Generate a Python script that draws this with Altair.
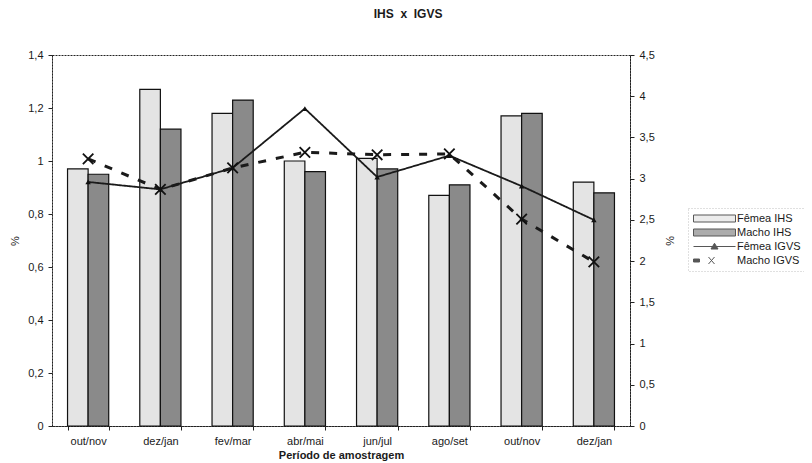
import altair as alt
import pandas as pd

# ---- data ----
periods = ["out/nov", "dez/jan", "fev/mar", "abr/mai", "jun/jul", "ago/set", "out/nov", "dez/jan"]
femea_ihs = [0.97, 1.27, 1.18, 1.00, 1.01, 0.87, 1.17, 0.92]
macho_ihs = [0.95, 1.12, 1.23, 0.96, 0.97, 0.91, 1.18, 0.88]
femea_igvs = [2.96, 2.87, 3.13, 3.85, 3.02, 3.28, 2.91, 2.50]
macho_igvs = [3.24, 2.87, 3.13, 3.32, 3.29, 3.30, 2.51, 1.99]
series_names = ["Fêmea IHS", "Macho IHS", "Fêmea IGVS", "Macho IGVS"]
left_ticks = [0, 0.2, 0.4, 0.6, 0.8, 1.0, 1.2, 1.4]
right_ticks = [0, 0.5, 1, 1.5, 2, 2.5, 3, 3.5, 4, 4.5]

FONT = "Liberation Sans"
TXT = "#1a1a1a"

bars_df = pd.DataFrame(
    [{"idx": i, "series": series_names[0], "value": v} for i, v in enumerate(femea_ihs)]
    + [{"idx": i, "series": series_names[1], "value": v} for i, v in enumerate(macho_ihs)]
)
igvs_df = pd.DataFrame(
    [{"idx": i, "series": series_names[2], "value": v} for i, v in enumerate(femea_igvs)]
    + [{"idx": i, "series": series_names[3], "value": v} for i, v in enumerate(macho_igvs)]
)
legend_df = pd.DataFrame({"series": series_names})

label_js = "[" + ",".join("'" + p + "'" for p in periods) + "][datum.value]"
num_expr = "replace(format(datum.value, '~g'), '.', ',')"

x_enc = alt.X(
    "idx:O",
    scale=alt.Scale(paddingInner=0.43, paddingOuter=0.215),
    axis=alt.Axis(
        title="Período de amostragem",
        labelExpr=label_js,
        labelAngle=0,
        tickBand="extent",
        tickSize=4,
        labelPadding=5,
        titlePadding=3,
        titleFontWeight="bold",
    ),
)

fill_scale = alt.Scale(domain=series_names, range=["#e4e4e4", "#8a8a8a", "#111111", "#111111"])

legend_paths = [
    "M-1,-0.7H7.4V0.7H-1Z",
    "M-1,-0.7H7.4V0.7H-1Z",
    "M-1,0H7.4M2.5,0.5L3.2,-0.65L3.9,0.5Z",
    "M-1,-0.3H0.2V0.3H-1ZM2.0,-0.7L3.2,0.7M2.0,0.7L3.2,-0.7",
]
legend_def = alt.Legend(
    title=None,
    orient="none",
    legendX=636,
    legendY=153,
    symbolSize=100,
    symbolStrokeColor="#111111",
    symbolStrokeWidth=1,
    labelOffset=33,
    rowPadding=2,
    padding=5,
    strokeColor="#c0c0c0",
    labelFontSize=11,
    labelFont=FONT,
    labelColor=TXT,
)

bars = alt.Chart(bars_df).mark_bar(stroke="#111111", strokeWidth=1.2).encode(
    x=x_enc,
    xOffset=alt.XOffset("series:N", sort=series_names[:2], scale=alt.Scale(paddingInner=0, paddingOuter=0)),
    y=alt.Y(
        "value:Q",
        scale=alt.Scale(domain=[0, 1.4], nice=False),
        axis=alt.Axis(
            title="%",
            values=left_ticks,
            labelExpr=num_expr,
            grid=False,
            tickSize=4,
            labelPadding=5,
            titlePadding=7,
            titleFontWeight="normal",
        ),
    ),
    fill=alt.Fill("series:N", scale=fill_scale, legend=legend_def),
)

# legend-only layer (no rows drawn)
legend_layer = alt.Chart(legend_df).transform_filter("false").mark_point(
    filled=True, stroke="#111111", strokeWidth=1
).encode(
    fill=alt.Fill("series:N", scale=fill_scale, legend=legend_def),
    shape=alt.Shape(
        "series:N",
        scale=alt.Scale(domain=series_names, range=legend_paths),
        legend=legend_def,
    ),
)

right_y = alt.Y(
    "value:Q",
    scale=alt.Scale(domain=[0, 4.5], nice=False),
    axis=alt.Axis(
        title="%",
        orient="right",
        values=right_ticks,
        labelExpr=num_expr,
        grid=False,
        tickSize=4,
        labelPadding=5,
        titlePadding=9,
        titleFontWeight="normal",
    ),
)

lines = alt.Chart(igvs_df).mark_line(color="#1a1a1a").encode(
    x=x_enc,
    y=right_y,
    detail="series:N",
    strokeDash=alt.StrokeDash(
        "series:N",
        scale=alt.Scale(domain=series_names[2:], range=[[1, 0], [8, 10]]),
        legend=None,
    ),
    strokeWidth=alt.StrokeWidth(
        "series:N",
        scale=alt.Scale(domain=series_names[2:], range=[1.8, 3]),
        legend=None,
    ),
)

tri = alt.Chart(igvs_df).transform_filter(
    alt.datum.series == series_names[2]
).mark_point(shape="triangle-up", filled=True, color="#111111", size=30, opacity=1).encode(
    x=x_enc, y=right_y
)

xs = alt.Chart(igvs_df).transform_filter(
    alt.datum.series == series_names[3]
).mark_point(
    shape="M-1,-1L1,1M-1,1L1,-1", filled=False, color="#111111", size=110, strokeWidth=1.8, opacity=1
).encode(x=x_enc, y=right_y)

right_layer = alt.layer(lines, tri, xs)

chart = (
    alt.layer(bars, legend_layer, right_layer)
    .resolve_scale(y="independent")
    .properties(
        width=578,
        height=371,
        title=alt.TitleParams(
            "IHS\u00a0 x\u00a0 IGVS", fontSize=12, fontWeight="bold", font=FONT, color=TXT,
            anchor="middle", frame="bounds", offset=28,
        ),
        autosize=alt.AutoSizeParams(type="none"),
        padding={"left": 44, "top": 47, "right": 174, "bottom": 40},
    )
    .configure(font=FONT)
    .configure_view(stroke="#222222", strokeWidth=1, strokeDash=[2, 1])
    .configure_legend(strokeColor="#c0c0c0", strokeDash=[1, 2])
    .configure_axis(
        labelFont=FONT, titleFont=FONT, labelFontSize=11, titleFontSize=11,
        labelColor=TXT, titleColor=TXT, domainColor="#222222", tickColor="#222222",
        domainDash=[2, 1],
    )
)

chart.save("out.html", embed_options={"renderer": "svg", "actions": False})
